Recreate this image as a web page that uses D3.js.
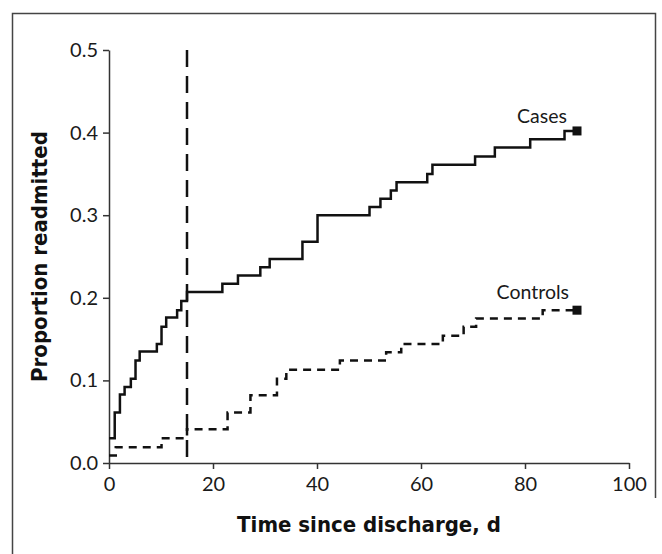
<!DOCTYPE html>
<html lang="en">
<head>
<meta charset="UTF-8">
<title>Proportion readmitted</title>
<style>
  body { margin: 0; background: #fff; }
  .tick text { font-family: Lato, "Open Sans", sans-serif; font-size: 20px; fill: #1a1a1a; }
  .domain, .tick line { stroke: #333; stroke-width: 1.5px; }
  .axis-title { font-family: "Liberation Sans Narrow", "DejaVu Sans Condensed", sans-serif; font-weight: bold; font-size: 22px; fill: #111; }
  .series-label { font-family: Lato, "Open Sans", sans-serif; font-size: 19.5px; fill: #1a1a1a; }
</style>
</head>
<body>
<div id="chart"></div>
<script src="https://d3js.org/d3.v7.min.js"></script>
<script>
// Kaplan-Meier style steps: day of each step, proportion readmitted from that day on
const casesDays = [0, 1.1, 2.1, 3.0, 4.2, 5.1, 5.9, 9.2, 10.1, 11.0, 13.1, 13.9, 15.0, 21.8, 24.8, 29.1, 30.9, 37.2, 40.1, 50.1, 52.2, 54.2, 55.3, 61.2, 62.2, 70.4, 74.2, 81.0, 87.6, 90];
const casesProp = [0.030, 0.061, 0.083, 0.092, 0.102, 0.124, 0.135, 0.144, 0.165, 0.176, 0.185, 0.196, 0.207, 0.217, 0.227, 0.237, 0.247, 0.268, 0.300, 0.310, 0.320, 0.330, 0.340, 0.350, 0.361, 0.371, 0.382, 0.392, 0.402, 0.402];

const controlsDays = [0, 1.3, 10.1, 15.0, 22.8, 27.2, 32.3, 34.1, 44.4, 53.3, 56.2, 64.2, 68.2, 70.6, 83.4, 90];
const controlsProp = [0.009, 0.019, 0.030, 0.041, 0.061, 0.082, 0.102, 0.113, 0.124, 0.134, 0.144, 0.154, 0.165, 0.175, 0.185, 0.185];

const xTicks = [0, 20, 40, 60, 80, 100];
const yTicks = [0.0, 0.1, 0.2, 0.3, 0.4, 0.5];
const cutoffDay = 15;

const W = 662, H = 554;
const margin = { top: 50, right: 33, bottom: 91, left: 109 };
const width = W - margin.left - margin.right;
const height = H - margin.top - margin.bottom;

const root = d3.select("#chart").append("svg")
    .attr("width", W)
    .attr("height", H);

// outer frame, cut off at the bottom
root.append("path")
    .attr("d", `M12.5,${H} V13.5 H655.5 V498`)
    .attr("fill", "none")
    .attr("stroke", "#444")
    .attr("stroke-width", 1.5);

const svg = root.append("g")
    .attr("transform", `translate(${margin.left},${margin.top})`);

const x = d3.scaleLinear().domain([0, 100]).range([0, width]);
const y = d3.scaleLinear().domain([0, 0.5]).range([height, 0]);

svg.append("g")
    .attr("transform", `translate(0,${height})`)
    .call(d3.axisBottom(x).tickValues(xTicks).tickSize(6).tickSizeOuter(0).tickPadding(4))
    .call(g => g.selectAll(".tick text").attr("dy", "0.9em"));

svg.append("g")
    .call(d3.axisLeft(y).tickValues(yTicks).tickFormat(d3.format(".1f")).tickSize(6).tickSizeOuter(0).tickPadding(5));

// cutoff line at day 15
svg.append("line")
    .attr("x1", x(cutoffDay)).attr("x2", x(cutoffDay))
    .attr("y1", y(0.5)).attr("y2", y(0))
    .attr("stroke", "#111")
    .attr("stroke-width", 2.5)
    .attr("stroke-dasharray", "17,9");

const stepLine = d3.line()
    .x(d => x(d[0]))
    .y(d => y(d[1]))
    .curve(d3.curveStepAfter);

const cases = casesDays.map((d, i) => [d, casesProp[i]]);
const controls = controlsDays.map((d, i) => [d, controlsProp[i]]);

svg.append("path")
    .datum(cases)
    .attr("d", stepLine)
    .attr("fill", "none")
    .attr("stroke", "#111")
    .attr("stroke-width", 2.5);

svg.append("path")
    .datum(controls)
    .attr("d", stepLine)
    .attr("fill", "none")
    .attr("stroke", "#111")
    .attr("stroke-width", 2.5)
    .attr("stroke-dasharray", "8,6");

// end markers
const ends = [cases[cases.length - 1], controls[controls.length - 1]];
svg.selectAll(".end")
    .data(ends)
    .enter().append("rect")
    .attr("class", "end")
    .attr("x", d => x(d[0]) - 4.5)
    .attr("y", d => y(d[1]) - 4.5)
    .attr("width", 9)
    .attr("height", 9)
    .attr("fill", "#111");

svg.append("text")
    .attr("class", "series-label")
    .attr("x", x(90) - 10)
    .attr("y", y(casesProp[casesProp.length - 1]) - 8)
    .attr("text-anchor", "end")
    .text("Cases");

svg.append("text")
    .attr("class", "series-label")
    .attr("x", x(90) - 8)
    .attr("y", y(controlsProp[controlsProp.length - 1]) - 11)
    .attr("text-anchor", "end")
    .text("Controls");

// axis titles
svg.append("text")
    .attr("class", "axis-title")
    .attr("x", width / 2)
    .attr("y", height + 69)
    .attr("text-anchor", "middle")
    .text("Time since discharge, d");

svg.append("text")
    .attr("class", "axis-title")
    .attr("transform", `translate(${47 - margin.left},${height / 2}) rotate(-90)`)
    .attr("text-anchor", "middle")
    .text("Proportion readmitted");
</script>
</body>
</html>
